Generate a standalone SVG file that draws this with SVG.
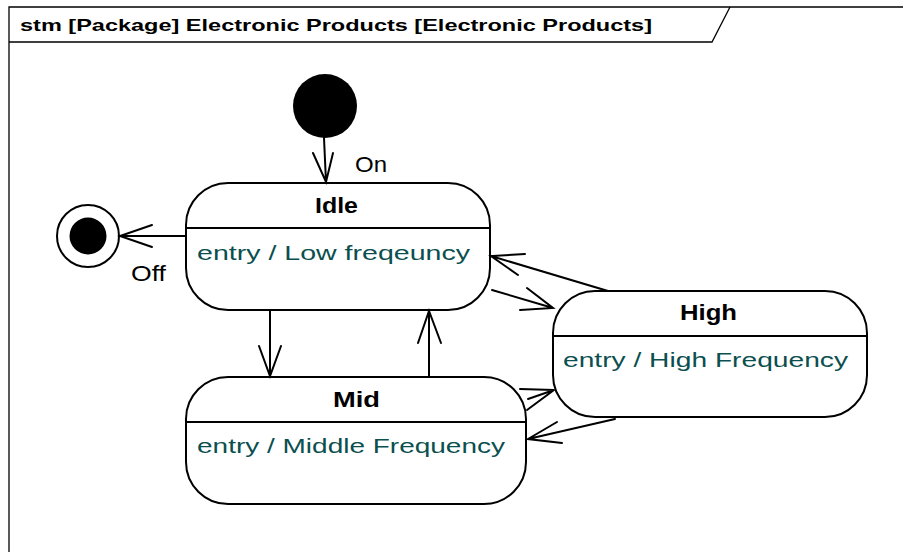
<svg xmlns="http://www.w3.org/2000/svg" width="903" height="552" viewBox="0 0 903 552">
  <style>
    .frame { fill: none; stroke: #000; stroke-width: 1.3; }
    .state { fill: #fff; stroke: #000; stroke-width: 2; }
    .div { stroke: #000; stroke-width: 2; }
    .conn { fill: none; stroke: #000; stroke-width: 2; stroke-linecap: round; }
    .hdr { font-family: "Liberation Sans", "Noto Sans CJK JP", sans-serif; font-size: 17px; font-weight: bold; fill: #000; }
    .name { font-family: "Liberation Sans", "Noto Sans CJK JP", sans-serif; font-size: 22px; font-weight: bold; fill: #000; }
    .act { font-family: "Liberation Sans", "Noto Sans CJK JP", sans-serif; font-size: 21px; fill: #0b4f4f; }
    .lbl { font-family: "Liberation Sans", "Noto Sans CJK JP", sans-serif; font-size: 22px; fill: #000; }
  </style>

  <!-- diagram frame with its name tab -->
  <g id="frame">
    <path class="frame" d="M9,552 V7 H903"/>
    <path class="frame" d="M9,42 H712 L730,7"/>
    <text class="hdr" x="20" y="31" textLength="632" lengthAdjust="spacingAndGlyphs">stm [Package] Electronic Products [Electronic Products]</text>
  </g>

  <!-- pseudo-states -->
  <g id="initial">
    <circle cx="325" cy="106" r="32" fill="#000"/>
  </g>
  <g id="final">
    <circle cx="88" cy="236" r="31" fill="#fff" stroke="#000" stroke-width="2"/>
    <circle cx="88" cy="236" r="18.5" fill="#000"/>
  </g>

  <!-- states -->
  <g id="Idle">
    <rect class="state" x="186" y="183" width="304" height="127" rx="42" ry="42"/>
    <line class="div" x1="186" y1="228" x2="490" y2="228"/>
    <text class="name" x="315" y="213" textLength="43" lengthAdjust="spacingAndGlyphs">Idle</text>
    <text class="act" x="197" y="260" textLength="273" lengthAdjust="spacingAndGlyphs">entry / Low freqeuncy</text>
  </g>
  <g id="High">
    <rect class="state" x="553" y="291" width="314" height="126" rx="42" ry="42"/>
    <line class="div" x1="553" y1="336" x2="867" y2="336"/>
    <text class="name" x="680" y="320" textLength="57" lengthAdjust="spacingAndGlyphs">High</text>
    <text class="act" x="563" y="367" textLength="285" lengthAdjust="spacingAndGlyphs">entry / High Frequency</text>
  </g>
  <g id="Mid">
    <rect class="state" x="186" y="377" width="340" height="127" rx="42" ry="42"/>
    <line class="div" x1="186" y1="422" x2="526" y2="422"/>
    <text class="name" x="333" y="407" textLength="47" lengthAdjust="spacingAndGlyphs">Mid</text>
    <text class="act" x="197" y="453" textLength="308" lengthAdjust="spacingAndGlyphs">entry / Middle Frequency</text>
  </g>

  <!-- transitions -->
  <g id="connectors">
    <!-- initial -> Idle -->
    <path class="conn" d="M324,138 L326,182 M313,153 L326,182 L333,153"/>
    <text class="lbl" x="355" y="172" textLength="32" lengthAdjust="spacingAndGlyphs">On</text>
    <!-- Idle -> final -->
    <path class="conn" d="M186,236 H120 M152,225 L120,236 L152,247"/>
    <text class="lbl" x="131" y="281" textLength="35" lengthAdjust="spacingAndGlyphs">Off</text>
    <!-- Idle -> Mid -->
    <path class="conn" d="M270,310 V376 M259,346 L270,376 L281,346"/>
    <!-- Mid -> Idle -->
    <path class="conn" d="M429,377 V311 M418,343 L429,311 L441,343"/>
    <!-- High -> Idle -->
    <path class="conn" d="M608,291 L491,256 M525,254 L491,256 L518,275"/>
    <!-- Idle -> High -->
    <path class="conn" d="M492,290 L553,308 M527,288 L553,308 L520,310"/>
    <!-- Mid -> High -->
    <path class="conn" d="M527,410 L554,390 M520,389 L554,390 L528,399"/>
    <!-- High -> Mid -->
    <path class="conn" d="M615,419 L528,439 M557,422 L528,439 L562,443"/>
  </g>
</svg>
